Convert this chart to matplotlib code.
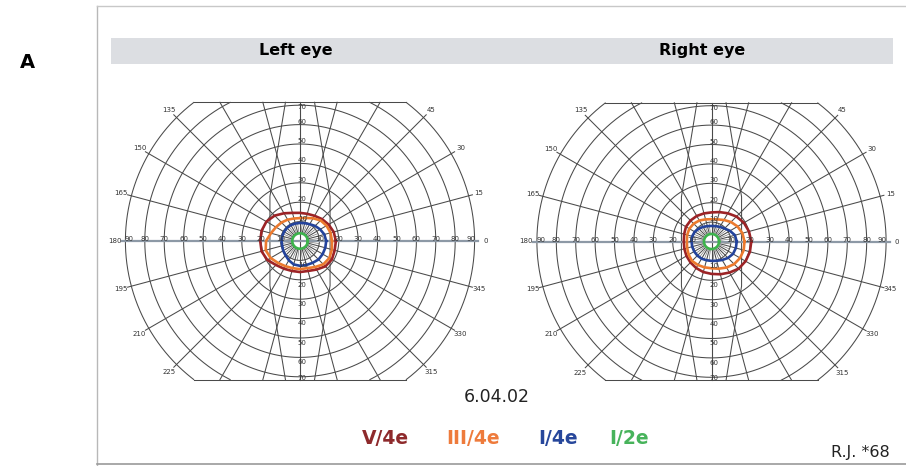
import numpy as np
import matplotlib.pyplot as plt
from matplotlib.patches import Rectangle
from matplotlib.lines import Line2D

# isopter radii (deg of eccentricity) sampled every 15 deg of meridian
angles = np.arange(0, 360, 15)

left_v4e = [18.5, 18, 17, 16, 15, 14.5, 14.5, 15, 16.5, 18.5, 20, 20.5,
            20.5, 20.5, 19.5, 17.5, 16.5, 16, 16, 16, 17, 18.5, 19, 18.5]
left_iii4e = [16.5, 16.3, 15.8, 15, 13.5, 12.3, 11.8, 12, 12.7, 13.5, 14.3, 15.5,
              17.5, 18.3, 17.5, 16, 15, 14.5, 14.5, 14.5, 15.5, 17, 17.5, 17]
left_i4e = [13.5, 13, 12, 11, 10, 9.5, 9.3, 9.3, 9.5, 9.5, 9.5, 9.5,
            9.5, 9.5, 10, 10.5, 11.5, 12.5, 12.8, 12.8, 13, 13.5, 13.5, 13.5]
left_i2e = [4.0] * 24

right_v4e = [20.5, 20, 19.3, 18.2, 16.8, 15.7, 15, 15, 15.2, 15.3, 15.2, 14.6,
             14.3, 14.5, 14.9, 15.3, 15.8, 16.3, 16.7, 17.5, 18.5, 19.8, 20.3, 20.5]
right_iii4e = [17, 16.5, 15.5, 14.2, 12.8, 11.8, 11.5, 11.8, 12.5, 13, 13.2, 13,
               12.7, 13, 13.6, 14.2, 14, 13.8, 13.8, 14.5, 15.5, 16.5, 17, 17.2]
right_i4e = [13, 12.5, 11, 9.5, 8.7, 8.2, 8, 8.2, 8.7, 9.3, 10, 10.3,
             10.3, 10.3, 10.3, 10.3, 10.2, 10, 10, 10.3, 11, 12, 12.8, 13]
right_i2e = [3.9] * 24

stimuli = ['V/4e', 'III/4e', 'I/4e', 'I/2e']
iso_colors = ['#9c2326', '#ec7a2e', '#23439c', '#3db34c']
text_colors = ['#8e2a2c', '#ee7b3c', '#27479b', '#47b35b']

rings = np.arange(10, 100, 10)
meridians = np.arange(0, 360, 15)
meridian_labels = [0, 15, 30, 45, 135, 150, 165, 180, 195, 210, 225, 315, 330, 345]
YCLIP = 71.5
GRID = '#4a4a4a'
PX_PER_DEG = 1.94
W, H = 906, 466


def field_axes(fig, cx, cy):
    w, h = 200 * PX_PER_DEG, 150 * PX_PER_DEG
    ax = fig.add_axes([(cx - w / 2) / W, (H - cy - h / 2) / H, w / W, h / H])
    ax.set_xlim(-100, 100)
    ax.set_ylim(-75, 75)
    ax.axis('off')
    return ax


def draw_grid(ax):
    t = np.linspace(0, 2 * np.pi, 1441)
    for r in rings:
        x = r * np.cos(t)
        y = r * np.sin(t)
        y = np.where(np.abs(y) > YCLIP, np.nan, y)
        ax.plot(x, y, color=GRID, lw=0.75)
    xe = np.sqrt(90 ** 2 - YCLIP ** 2)
    for s in (-1, 1):
        ax.plot([-xe, xe], [s * YCLIP] * 2, color=GRID, lw=0.75)

    for a in meridians:
        if a in (0, 90, 180, 270):
            continue
        th = np.radians(a)
        r_end = 92.0
        if abs(np.sin(th)) * r_end > YCLIP:
            r_end = YCLIP / abs(np.sin(th))
        ax.plot([4.5 * np.cos(th), r_end * np.cos(th)],
                [4.5 * np.sin(th), r_end * np.sin(th)], color=GRID, lw=0.75)

    # fine spokes inside the central 10 deg
    for a in np.arange(7.5, 360, 15):
        th = np.radians(a)
        ax.plot([4.5 * np.cos(th), 10 * np.cos(th)], [4.5 * np.sin(th), 10 * np.sin(th)],
                color='#6a6a6a', lw=0.45)

    # side guides near the vertical meridian
    for s in (-1, 1):
        ax.plot([s * 7.5, s * 15.5, s * 15.5, s * 7.5], [YCLIP, 23, -23, -YCLIP],
                color=GRID, lw=0.75)

    ax.plot([0, 0], [-YCLIP, YCLIP], color=GRID, lw=0.8)
    ax.plot([-92, 92], [0, 0], color='#8d99a6', lw=1.6)

    for r in rings:
        xr = 88 if r == 90 else r
        for s in (-1, 1):
            ax.text(s * xr, 1.0, str(r), fontsize=5, color='#333333',
                    ha='center', va='center')
    for r in rings[:7]:
        ax.text(1.2, r + 1.5 if r < 70 else 69, str(r), fontsize=5, color='#333333',
                ha='center', va='center')
        ax.text(1.2, -(r + 2.5) if r < 70 else -70.5, str(r), fontsize=5,
                color='#333333', ha='center', va='center')
    for a in meridian_labels:
        th = np.radians(a)
        ax.text(95.5 * np.cos(th), 95.5 * np.sin(th), str(a), fontsize=5,
                color='#333333', ha='center', va='center')


def draw_isopters(ax, curves):
    th = np.radians(np.append(angles, 360))
    for r, c in zip(curves, iso_colors):
        r = np.append(r, r[0])
        ax.plot(r * np.cos(th), r * np.sin(th), color=c, lw=1.9,
                solid_joinstyle='round')


fig = plt.figure(figsize=(W / 100, H / 100), dpi=100)
fig.patch.set_facecolor('white')

# frame and header band
frame = fig.add_axes([0, 0, 1, 1])
frame.set_xlim(0, W)
frame.set_ylim(H, 0)
frame.axis('off')
frame.add_line(Line2D([97, 97], [6, 466], color='#b8b8b8', lw=1.0))
frame.add_line(Line2D([97, 906], [6, 6], color='#c8c8c8', lw=1.0))
frame.add_line(Line2D([97, 906], [464, 464], color='#9a9a9a', lw=1.2))
frame.add_patch(Rectangle((111, 38), 782, 26, color='#dcdee2', lw=0))
frame.text(27, 63, 'A', fontsize=14, fontweight='bold', ha='center', va='center')
frame.text(296, 51, 'Left eye', fontsize=11.5, fontweight='bold', ha='center', va='center')
frame.text(702, 51, 'Right eye', fontsize=11.5, fontweight='bold', ha='center', va='center')
frame.text(497, 397, '6.04.02', fontsize=12.5, ha='center', va='center', color='#222222')
for label, col, xc in zip(stimuli, text_colors, [385, 473, 558, 629]):
    frame.text(xc, 438, label, fontsize=13.5, fontweight='bold', color=col,
               ha='center', va='center')
frame.text(890, 453, 'R.J. *68', fontsize=11.5, ha='right', va='center', color='#222222')

ax_l = field_axes(fig, 300, 241)
draw_grid(ax_l)
draw_isopters(ax_l, [left_v4e, left_iii4e, left_i4e, left_i2e])

ax_r = field_axes(fig, 711.5, 241.5)
draw_grid(ax_r)
draw_isopters(ax_r, [right_v4e, right_iii4e, right_i4e, right_i2e])

fig.savefig('out.png', dpi=100)
